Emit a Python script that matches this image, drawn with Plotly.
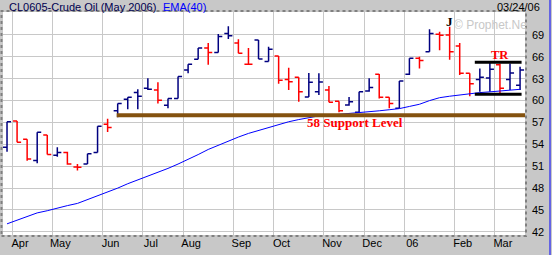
import pandas as pd
import plotly.graph_objects as go

# ---------------- data ----------------
week_start = pd.date_range("2005-03-28", periods=52, freq="7D")

opens = [53.6, 57.2, 54.7, 51.8, 55.3, 52.5, 52.9, 50.9, 51.3, 52.9,
         56.75, 58.6, 60.2, 61.1, 61.7, 61.45, 59.35, 60.3, 64.2, 65.67,
         67.2, 66.6, 69.2, 67.9, 65.0, 68.3, 65.35, 66.1, 62.9, 63.2,
         60.5, 61.2, 61.45, 59.9, 59.4, 58.4, 61.3, 63.6, 60.45, 58.95,
         63.6, 65.8, 66.7, 69.1, 69.0, 67.5, 63.75, 62.9, 63.1, 64.9,
         62.9, 62.1]
highs = [57.1, 57.2, 54.7, 55.65, 55.3, 53.6, 53.0, 51.3, 52.7, 56.5,
         57.5, 59.6, 60.45, 61.55, 63.06, 62.5, 60.3, 63.3, 65.0, 67.2,
         67.9, 69.14, 70.2, 68.4, 67.2, 68.3, 67.4, 66.1, 64.5, 63.2,
         63.8, 63.75, 62.0, 59.9, 60.5, 61.2, 63.06, 63.65, 60.45, 62.7,
         65.8, 66.0, 69.8, 69.45, 70.14, 67.9, 63.75, 64.4, 65.2, 65.1,
         65.1, 64.65]
lows = [53.0, 54.3, 51.76, 51.4, 52.6, 52.3, 51.2, 50.4, 51.3, 52.9,
        55.7, 57.7, 58.8, 58.8, 61.45, 59.6, 58.95, 60.3, 63.75, 65.67,
        64.9, 66.6, 68.45, 66.5, 64.9, 65.7, 65.35, 62.3, 61.45, 59.85,
        60.5, 60.77, 59.77, 58.4, 59.3, 58.3, 61.2, 60.3, 58.95, 58.9,
        63.5, 64.4, 66.7, 66.9, 65.6, 63.5, 60.6, 61.2, 61.2, 61.0,
        61.45, 61.45]
closes = [57.1, 54.3, 52.0, 55.65, 52.6, 52.9, 51.3, 50.85, 52.7, 56.5,
          56.3, 59.6, 60.45, 60.6, 61.55, 60.04, 60.3, 63.3, 65.0, 67.2,
          66.6, 68.8, 68.9, 66.5, 65.0, 65.7, 67.04, 62.8, 62.6, 61.2,
          62.5, 62.55, 59.77, 58.6, 59.85, 61.2, 61.8, 60.45, 59.6, 62.7,
          65.8, 65.5, 69.2, 68.95, 66.7, 63.75, 62.3, 63.2, 64.3, 61.7,
          63.8, 64.2]
ema40 = [43.1, 43.6, 44.0, 44.6, 44.9, 45.3, 45.6, 45.9, 46.4, 46.9,
         47.5, 48.0, 48.6, 49.1, 49.7, 50.2, 50.7, 51.3, 51.9, 52.6,
         53.3, 53.9, 54.5, 55.0, 55.5, 55.9, 56.3, 56.8, 57.1, 57.4,
         57.7, 57.9, 58.0, 58.1, 58.2, 58.35, 58.5, 58.6, 58.75, 58.9,
         59.2, 59.5, 60.0, 60.4, 60.6, 60.8, 60.9, 61.1, 61.2, 61.3,
         61.45, 61.55]

month_labels = ["Apr", "May", "Jun", "Jul", "Aug", "Sep", "Oct", "Nov",
                "Dec", "06", "Feb", "Mar"]
y_ticks = [42, 45, 48, 51, 54, 57, 60, 63, 66, 69]
support_level = 58
support_from_week = 10.9
tr_top, tr_bottom = 65.25, 60.87
tr_from_week, tr_to_week = 46.5, 51.15

title_text = "CL0605-Crude Oil (May 2006)"
ema_text = "EMA(40)"
date_text = "03/24/06"

# ---------------- derived ----------------
idx = list(range(len(closes)))
up = [True] + [closes[i] >= closes[i - 1] for i in range(1, len(closes))]

month_pos = []
for i in range(1, len(week_start)):
    if week_start[i].month != week_start[i - 1].month:
        month_pos.append(i - 0.5)

NAVY = "#000080"
RED = "#FF0000"
BG = "#C8C8C8"
GRID = "#C8C8C8"

W, H = 552, 255
ML, MR, MT, MB = 3, 27, 12, 20
PW, PH = W - ML - MR, H - MT - MB


def px2x(px):
    return (px - ML) / PW


def py2y(py):
    return (H - MB - py) / PH


fig = go.Figure()

fig.add_trace(go.Scatter(x=idx, y=ema40, mode="lines",
                         line=dict(color="#0000FF", width=1),
                         hoverinfo="skip", showlegend=False))

for flag, col in ((True, NAVY), (False, RED)):
    sel = [i for i in idx if up[i] == flag]
    fig.add_trace(go.Ohlc(
        x=sel,
        open=[opens[i] for i in sel], high=[highs[i] for i in sel],
        low=[lows[i] for i in sel], close=[closes[i] for i in sel],
        increasing=dict(line=dict(color=col, width=1.5)),
        decreasing=dict(line=dict(color=col, width=1.5)),
        tickwidth=0.4, hoverinfo="skip", showlegend=False))

shapes = [
    dict(type="line", xref="x", yref="y", x0=support_from_week, x1=51.49,
         y0=support_level, y1=support_level,
         line=dict(color="#84520F", width=4), layer="above"),
    dict(type="line", xref="x", yref="y", x0=tr_from_week, x1=tr_to_week,
         y0=tr_top, y1=tr_top, line=dict(color="black", width=3)),
    dict(type="line", xref="x", yref="y", x0=tr_from_week, x1=tr_to_week,
         y0=tr_bottom, y1=tr_bottom, line=dict(color="black", width=3)),
    dict(type="rect", xref="paper", yref="paper", x0=px2x(1.5), x1=px2x(526),
         y0=py2y(236), y1=py2y(11), line=dict(color="#808080", width=2, dash="dot"),
         layer="above"),
    dict(type="line", xref="paper", yref="paper", x0=px2x(550), x1=px2x(550),
         y0=py2y(0), y1=py2y(255), line=dict(color="#0000FF", width=1)),
]

annotations = [
    dict(text=title_text, x=px2x(7), y=py2y(6.5), xref="paper", yref="paper",
         xanchor="left", yanchor="middle", showarrow=False,
         font=dict(family="Arial", size=11, color="#000050")),
    dict(text=ema_text, x=px2x(161), y=py2y(6.5), xref="paper", yref="paper",
         xanchor="left", yanchor="middle", showarrow=False,
         font=dict(family="Arial", size=11, color="#0000FF")),
    dict(text=date_text, x=px2x(542), y=py2y(6.5), xref="paper", yref="paper",
         xanchor="right", yanchor="middle", showarrow=False,
         font=dict(family="Arial", size=11, color="#000000")),
    dict(text="© Prophet.Net", x=px2x(492), y=py2y(25), xref="paper", yref="paper",
         xanchor="center", yanchor="middle", showarrow=False,
         font=dict(family="Arial", size=12, color="#C8C8C8")),
    dict(text="<b>J</b>", x=44, y=70.8, xref="x", yref="y", showarrow=False,
         xanchor="center", yanchor="middle",
         font=dict(family="Liberation Serif", size=13, color="black")),
    dict(text="<b>TR</b>", x=49.0, y=66.2, xref="x", yref="y", showarrow=False,
         xanchor="center", yanchor="middle",
         font=dict(family="Liberation Serif", size=12.5, color=RED)),
    dict(text="<b>58 Support Level</b>", x=34.6, y=57.0, xref="x", yref="y",
         showarrow=False, xanchor="center", yanchor="middle",
         font=dict(family="Liberation Serif", size=13, color=RED)),
]

fig.update_layout(
    width=W, height=H,
    margin=dict(l=ML, r=MR, t=MT, b=MB, pad=0),
    paper_bgcolor=BG, plot_bgcolor="white",
    showlegend=False,
    shapes=shapes, annotations=annotations,
    xaxis=dict(range=[-0.4, 51.49], tickmode="array", tickvals=month_pos,
               ticktext=month_labels, showgrid=True, gridcolor=GRID, gridwidth=1,
               zeroline=False, showline=False, ticks="", ticklabelshift=8,
               tickfont=dict(family="Arial", size=11, color="black"),
               rangeslider=dict(visible=False), fixedrange=True),
    yaxis=dict(range=[41.57, 72.15], side="right", tickmode="array",
               tickvals=y_ticks, showgrid=True, gridcolor=GRID, gridwidth=1,
               zeroline=False, showline=False, ticks="", ticklabelstandoff=6,
               tickfont=dict(family="Arial", size=11, color="black"),
               fixedrange=True),
)

fig.write_html("out.html", config={"displayModeBar": False})
